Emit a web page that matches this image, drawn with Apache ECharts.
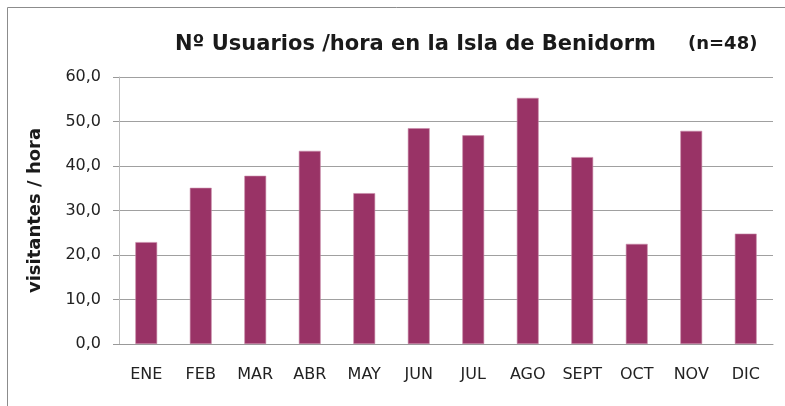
<!DOCTYPE html>
<html><head><meta charset="utf-8">
<script src="https://cdn.jsdelivr.net/npm/echarts@6/dist/echarts.min.js"></script>
<style>html,body{margin:0;padding:0;background:#fff}#c{width:785px;height:406px}</style>
</head><body><div id="c"></div>
<script>
const categories = ['ENE','FEB','MAR','ABR','MAY','JUN','JUL','AGO','SEPT','OCT','NOV','DIC'];
const visitantes = [22.9, 35.1, 37.8, 43.4, 33.9, 48.5, 46.9, 55.3, 42.0, 22.5, 47.9, 24.8];
const titleText = 'Nº Usuarios /hora en la Isla de Benidorm';
const subText = '(n=48)';
const yName = 'visitantes / hora';

const chart = echarts.init(document.getElementById('c'), null, {renderer:'canvas'});
const FONT = '"DejaVu Sans", sans-serif';
chart.setOption({
  animation:false,
  graphic:[
    {type:'rect', shape:{x:7.5,y:7.5,width:800,height:420}, style:{fill:'none', stroke:'#8c8c8c', lineWidth:1}, silent:true},
    {type:'text', left:175, top:34, style:{text:titleText, fontSize:21, fontWeight:'bold', fontFamily:FONT, fill:'#1a1a1a'}},
    {type:'text', left:688, top:35, style:{text:subText, fontSize:18, fontWeight:'bold', fontFamily:FONT, fill:'#1a1a1a'}}
  ],
  grid:{left:119, right:12, top:77, bottom:62},
  xAxis:{type:'category', data:categories,
    axisLine:{lineStyle:{color:'#999'}}, axisTick:{show:false},
    axisLabel:{color:'#222', fontSize:16, fontFamily:FONT, margin:23}},
  yAxis:{type:'value', min:0, max:60, interval:10,
    name:yName, nameLocation:'middle', nameGap:75, nameRotate:90,
    nameTextStyle:{fontSize:18, fontWeight:'bold', fontFamily:FONT, color:'#1a1a1a'},
    axisLine:{show:true, lineStyle:{color:'#bbb'}},
    axisTick:{show:true, length:6, lineStyle:{color:'#999'}},
    axisLabel:{color:'#222', fontSize:16, fontFamily:FONT, margin:18, formatter:v=>v.toFixed(1).replace('.',',')},
    splitLine:{lineStyle:{color:'#a0a0a0'}}},
  series:[{type:'bar', data:visitantes, barWidth:'40%',
    itemStyle:{color:'#993366', borderColor:'#c88aa8', borderWidth:0.6}}]
});
</script></body></html>
